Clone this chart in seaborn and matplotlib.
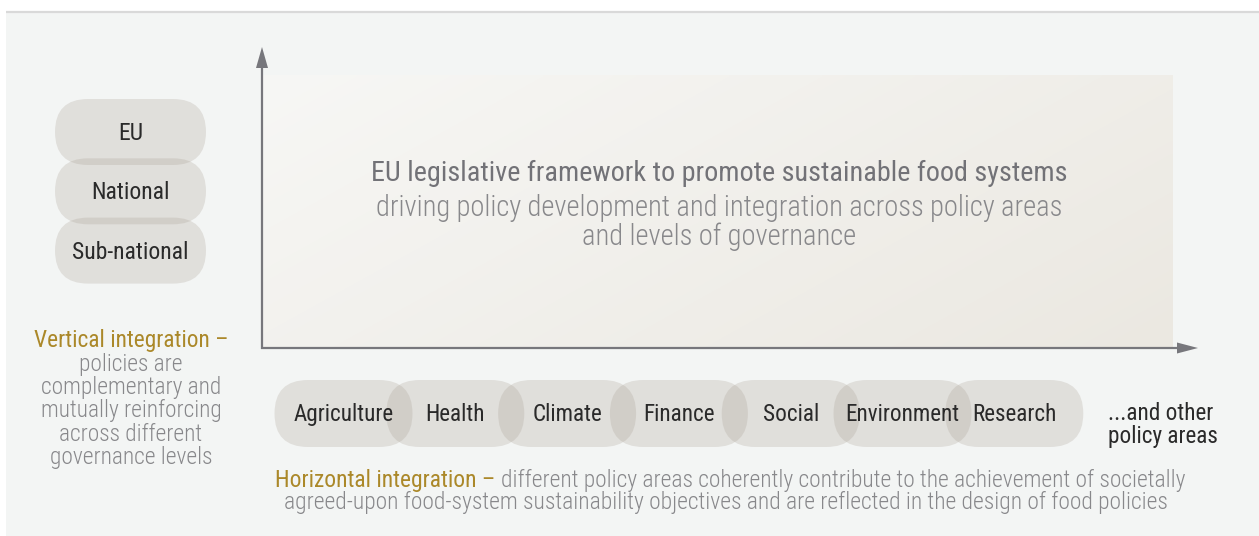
import numpy as np
import matplotlib
matplotlib.use("Agg")
import matplotlib.pyplot as plt
from matplotlib.patches import FancyBboxPatch, Rectangle, Polygon
from matplotlib.colors import to_rgb
from matplotlib import font_manager
import seaborn as sns

# ---------------- data (texts of the diagram) ----------------
levels = ["EU", "National", "Sub-national"]
policy_areas = ["Agriculture", "Health", "Climate", "Finance", "Social", "Environment", "Research"]
other_areas = ["...and other", "policy areas"]
framework_title = "EU legislative framework to promote sustainable food systems"
framework_lines = ["driving policy development and integration across policy areas",
                   "and levels of governance"]
vertical_head = "Vertical integration \u2013"
vertical_lines = ["policies are", "complementary and", "mutually reinforcing",
                  "across different", "governance levels"]
horizontal_head = "Horizontal integration \u2013 "
horizontal_lines = ["different policy areas coherently contribute to the achievement of societally",
                    "agreed-upon food-system sustainability objectives and are reflected in the design of food policies"]

# ---------------- style ----------------
sns.set_theme(style="white")
avail = {f.name for f in font_manager.fontManager.ttflist}
family = next(f for f in ["Roboto Condensed", "Liberation Sans Narrow", "Open Sans Condensed",
                          "Roboto", "DejaVu Sans"] if f in avail)
plt.rcParams["font.family"] = [family, "DejaVu Sans"]

GOLD = "#ab8829"
GRAY_TXT = "#88888b"
TITLE_TXT = "#727277"
DARK_TXT = "#2a2a2a"
ARROW = "#77777c"
BG = "#f3f5f4"
PILL = "#a89e92"
PILL_ALPHA = 0.25

W, H = 1259, 536
fig = plt.figure(figsize=(W / 100, H / 100), dpi=100)
fig.patch.set_facecolor("white")
ax = fig.add_axes([0, 0, 1, 1])
ax.axis("off")

# background panel + top rule
ax.add_patch(Rectangle((6, 12), W - 6, H - 12, facecolor=BG, edgecolor="none", zorder=0))
ax.plot([6, W], [11.5, 11.5], color="#d9d9d9", lw=1.6, zorder=1, solid_capstyle="butt")

# gradient framework box
nx, ny = 300, 100
gx, gy = np.meshgrid(np.linspace(0, 1, nx), np.linspace(0, 1, ny))
t = np.clip(gx * 0.65 + gy * 0.35, 0, 1)
c0 = np.array(to_rgb("#f7f7f5"))
c1 = np.array(to_rgb("#ebe8e1"))
img = c0 + (c1 - c0) * t[..., None]
ax.imshow(img, extent=[262, 1173, 348, 75], origin="upper", aspect="auto",
          zorder=1, interpolation="bilinear")

ax.set_xlim(0, W)
ax.set_ylim(H, 0)

# arrows
ax.plot([262, 262], [349, 66], color=ARROW, lw=1.6, zorder=3, solid_capstyle="butt")
ax.add_patch(Polygon([(256, 68), (268, 68), (262, 47)], closed=True, color=ARROW, zorder=3, lw=0))
ax.plot([261, 1179], [348, 348], color=ARROW, lw=1.6, zorder=3, solid_capstyle="butt")
ax.add_patch(Polygon([(1177, 342.5), (1177, 353.5), (1198, 348)], closed=True, color=ARROW, zorder=3, lw=0))

renderer = fig.canvas.get_renderer()


def fit_size(text, target, weight="normal", base=20.0):
    tt = ax.text(0, 0, text, fontsize=base, fontweight=weight)
    w = tt.get_window_extent(renderer).width
    tt.remove()
    return base * target / w


def pill(cx, cy, w, h):
    p = FancyBboxPatch((cx - w / 2 + h / 2, cy - 0.01), w - h, 0.02,
                       boxstyle=f"round,pad={h / 2 - 0.01},rounding_size={h / 2}",
                       facecolor=PILL, alpha=PILL_ALPHA, edgecolor="none", zorder=2)
    ax.add_patch(p)


# ---------------- vertical levels ----------------
lvl_cx, lvl_w, lvl_h = 130.5, 151, 66
lvl_y0, lvl_step = 132, 59.3
fs_lvl = fit_size("Sub-national", 116)
for i, name in enumerate(levels):
    cy = lvl_y0 + i * lvl_step
    pill(lvl_cx, cy, lvl_w, lvl_h)
    ax.text(lvl_cx, cy + 1.5, name, fontsize=fs_lvl, color=DARK_TXT,
            ha="center", va="center", zorder=5)

# ---------------- policy areas ----------------
pa_x0, pa_step, pa_w, pa_h, pa_cy = 343.5, 111.8, 138, 67, 413.5
fs_pa = fit_size("Agriculture", 100)
for i, name in enumerate(policy_areas):
    cx = pa_x0 + i * pa_step
    pill(cx, pa_cy, pa_w, pa_h)
    ax.text(cx, pa_cy + 1, name, fontsize=fs_pa, color=DARK_TXT,
            ha="center", va="center", zorder=5)

for j, line in enumerate(other_areas):
    ax.text(1108, 414 + j * 22, line, fontsize=fs_pa, color=DARK_TXT,
            ha="left", va="center", zorder=5)

# ---------------- framework texts ----------------
fs_title = fit_size(framework_title, 694, weight="normal")
ax.text(719, 173, framework_title, fontsize=fs_title, fontweight="normal",
        color=TITLE_TXT, ha="center", va="center", zorder=5)
fs_sub = fit_size(framework_lines[0], 686, weight="light")
for j, line in enumerate(framework_lines):
    ax.text(719, 208 + j * 28.5, line, fontsize=fs_sub, fontweight="light",
            color=GRAY_TXT, ha="center", va="center", zorder=5)

# ---------------- vertical integration text ----------------
fs_v = fit_size("complementary and", 180, weight="light")
ax.text(131, 341, vertical_head, fontsize=fs_v, fontweight="normal", color=GOLD,
        ha="center", va="center", zorder=5)
for j, line in enumerate(vertical_lines):
    ax.text(131, 364 + j * 23.4, line, fontsize=fs_v, fontweight="light",
            color=GRAY_TXT, ha="center", va="center", zorder=5)

# ---------------- horizontal integration text ----------------
full1 = horizontal_head + horizontal_lines[0]
fs_h = fit_size(full1, 903, weight="light")
th = ax.text(275, 480, horizontal_head, fontsize=fs_h, fontweight="normal", color=GOLD,
             ha="left", va="center", zorder=5)
wh = th.get_window_extent(renderer).width
ax.text(275 + wh, 480, horizontal_lines[0], fontsize=fs_h, fontweight="light",
        color=GRAY_TXT, ha="left", va="center", zorder=5)
ax.text(726, 502, horizontal_lines[1], fontsize=fs_h, fontweight="light",
        color=GRAY_TXT, ha="center", va="center", zorder=5)

fig.savefig("out.png", dpi=100, facecolor="white")
